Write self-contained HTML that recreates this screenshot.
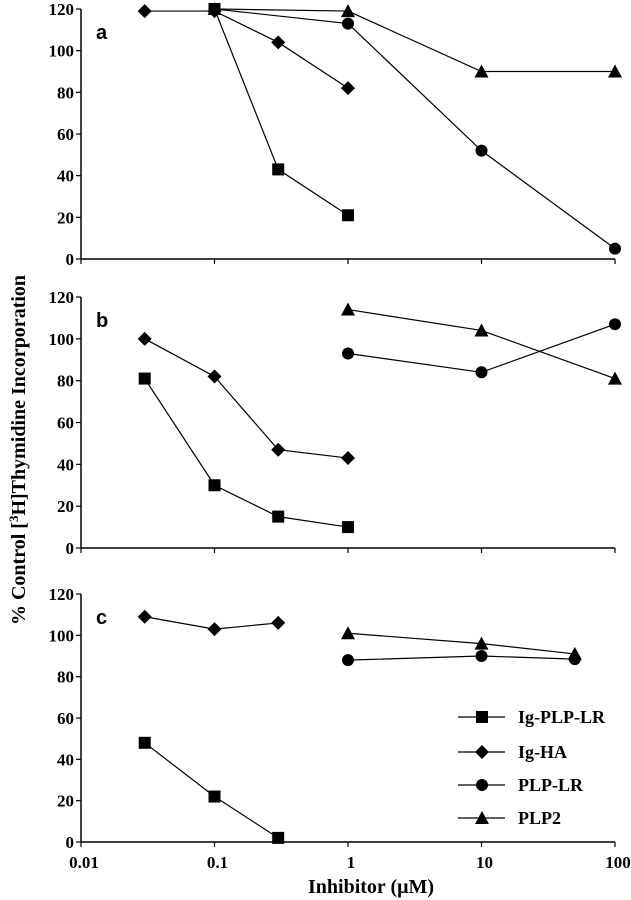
<!DOCTYPE html>
<html><head><meta charset="utf-8"><style>
body{margin:0;background:#fff}
svg{display:block}
.t{font-family:"Liberation Serif",serif;font-weight:bold;font-size:17px;fill:#000}
.p{font-family:"Liberation Sans",sans-serif;font-weight:bold;font-size:20px;fill:#000}
</style></head><body>
<svg id="chart" width="631" height="900"></svg>
<script>
const seriesNames=["Ig-PLP-LR","Ig-HA","PLP-LR","PLP2"];
const markers=["square","diamond","circle","triangle"];
const yTicks=[0,20,40,60,80,100,120];
const xTicks=[0.01,0.1,1,10,100];
const xTickLabels=["0.01","0.1","1","10","100"];
const panelLabels=["a","b","c"];
// panel a
const aSqX=[0.1,0.3,1], aSqY=[120,43,21];
const aDiX=[0.03,0.1,0.3,1], aDiY=[119,119,104,82];
const aCiX=[0.1,1,10,100], aCiY=[120,113,52,5];
const aTrX=[0.1,1,10,100], aTrY=[120,119,90,90];
// panel b
const bSqX=[0.03,0.1,0.3,1], bSqY=[81,30,15,10];
const bDiX=[0.03,0.1,0.3,1], bDiY=[100,82,47,43];
const bCiX=[1,10,100], bCiY=[93,84,107];
const bTrX=[1,10,100], bTrY=[114,104,81];
// panel c
const cSqX=[0.03,0.1,0.3], cSqY=[48,22,2];
const cDiX=[0.03,0.1,0.3], cDiY=[109,103,106];
const cCiX=[1,10,50], cCiY=[88,90,88.5];
const cTrX=[1,10,50], cTrY=[101,96,91];

const panels=[
 {top:9,bot:259,s:[[aSqX,aSqY],[aDiX,aDiY],[aCiX,aCiY],[aTrX,aTrY]]},
 {top:297,bot:548,s:[[bSqX,bSqY],[bDiX,bDiY],[bCiX,bCiY],[bTrX,bTrY]]},
 {top:594,bot:842,s:[[cSqX,cSqY],[cDiX,cDiY],[cCiX,cCiY],[cTrX,cTrY]]}
];
const svg=document.getElementById('chart');
const NS="http://www.w3.org/2000/svg";
function mk(tag,attrs,parent){const e=document.createElementNS(NS,tag);for(const k in attrs)e.setAttribute(k,attrs[k]);(parent||svg).appendChild(e);return e;}
const X0=81,X1=615;
function xs(v){return X0+(Math.log10(v)+2)/4*(X1-X0);}
function marker(type,x,y,g){
 let e;
 if(type==="square")e=mk('rect',{x:x-6,y:y-6,width:12,height:12,fill:'#000'},g);
 else if(type==="diamond")e=mk('polygon',{points:`${x},${y-7} ${x+7},${y} ${x},${y+7} ${x-7},${y}`,fill:'#000'},g);
 else if(type==="circle")e=mk('circle',{cx:x,cy:y,r:6,fill:'#000'},g);
 else e=mk('polygon',{points:`${x},${y-7} ${x+7},${y+6} ${x-7},${y+6}`,fill:'#000'},g);
 
 
}
panels.forEach((p,pi)=>{
 const ys=v=>p.bot-(v/120)*(p.bot-p.top);
 const g=mk('g',{});
 
 
 const ya=mk('line',{x1:X0,y1:p.top,x2:X0,y2:p.bot,stroke:'#000','stroke-width':1.5},g);
 
 
 const xa=mk('line',{x1:X0,y1:p.bot,x2:X1,y2:p.bot,stroke:'#000','stroke-width':1.5},g);
 
 
 yTicks.forEach(t=>{
  mk('line',{x1:X0-5,y1:ys(t),x2:X0,y2:ys(t),stroke:'#000','stroke-width':1.2},g);
  const tx=mk('text',{x:X0-7,y:ys(t)+6,'text-anchor':'end',class:'t'},g);
  tx.textContent=t;
  
  
 });
 xTicks.forEach(t=>{mk('line',{x1:xs(t),y1:p.bot,x2:xs(t),y2:p.bot+5,stroke:'#000','stroke-width':1.2},g);});
 const pl=mk('text',{x:96,y:p.top+30,class:'p'},g);
 pl.textContent=panelLabels[pi];
 
 
 p.s.forEach((s,si)=>{
  const [sx,sy]=s;
  const pts=sx.map((v,i)=>xs(v)+','+ys(sy[i])).join(' ');
  const ln=mk('polyline',{points:pts,fill:'none',stroke:'#000','stroke-width':1.2},g);
  
  
  sx.forEach((v,i)=>marker(markers[si],xs(v),ys(sy[i]),g));
 });
});
xTicks.forEach((t,i)=>{
 const tx=mk('text',{x:xs(t)+3,y:868,'text-anchor':'middle',class:'t'});
 tx.textContent=xTickLabels[i];
 
 
});
const xt=mk('text',{x:371,y:893,'text-anchor':'middle',class:'t',style:'font-size:20px'});
xt.textContent="Inhibitor (\u03BCM)";


const yt=mk('text',{x:0,y:0,'text-anchor':'middle',class:'t',style:'font-size:20px',transform:'translate(25,450) rotate(-90)'});
yt.innerHTML='% Control [<tspan baseline-shift="super" font-size="13">3</tspan>H]Thymidine Incorporation';


const legY=[717,752,785,818];
seriesNames.forEach((n,i)=>{
 const g=mk('g',{});
 
 
 mk('line',{x1:458,y1:legY[i],x2:505,y2:legY[i],stroke:'#000','stroke-width':1.2},g);
 marker(markers[i],482,legY[i],g);
 const tx=mk('text',{x:518,y:legY[i]+6,class:'t',style:'font-size:18px'},g);
 tx.textContent=n;
});
</script>
</body></html>
